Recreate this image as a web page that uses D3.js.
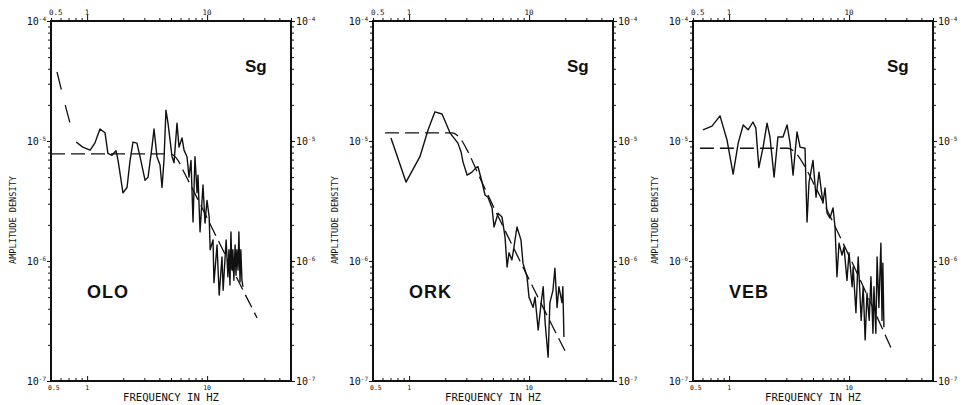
<!DOCTYPE html>
<html lang="en">
<head>
<meta charset="UTF-8">
<title>Sg spectra</title>
<style>
body { margin: 0; background: #fff; }
svg { display: block; }
.axis text, .lbl { font-family: 'DejaVu Sans Mono', monospace; fill: #111; }
.axis line { stroke: #111; stroke-width: 1; }
.title { font-family: 'Liberation Sans', Arial, sans-serif; font-weight: bold; fill: #111; }
</style>
</head>
<body>
<div id="chart"></div>
<script src="https://cdnjs.cloudflare.com/ajax/libs/d3/7.8.5/d3.min.js"></script>
<script>
var stations = ["OLO", "ORK", "VEB"];
var phase = "Sg";
var freqLabels = [0.5, 1, 10];
var ampLabels = [1e-4, 1e-5, 1e-6, 1e-7];
var ampExp = ["-4", "-5", "-6", "-7"];
var xTitle = "FREQUENCY IN HZ";
var yTitle = "AMPLITUDE DENSITY";

// observed spectra (Hz, amplitude density)
var oloFreq = [0.81,0.92,1.06,1.16,1.28,1.41,1.49,1.61,1.74,1.81,1.99,2.15,2.28,2.41,2.60,2.76,3.04,3.22,3.47,3.61,3.82,4.05,4.21,4.37,4.54,4.72,5.10,5.30,5.61,5.83,6.18,6.42,6.80,7.06,7.34,7.63,7.92,8.24,8.39,8.73,9.24,9.60,9.98,10.4,10.6,11.2,11.4,12.1,12.6,13.3,13.6,14.4,14.9,15.2,15.5,15.8,16.1,16.4,16.7,17.1,17.4,17.7,18.1,18.4,18.8,19.1,19.5,19.9];
var oloAmp = [9.8e-6,8.9e-6,8.4e-6,9.6e-6,1.26e-5,1.17e-5,7.9e-6,7.6e-6,8.3e-6,6.9e-6,3.7e-6,4.1e-6,6.9e-6,9.8e-6,9.6e-6,7.4e-6,4.7e-6,5.0e-6,8.9e-6,1.26e-5,7.4e-6,6.3e-6,4.1e-6,6.9e-6,1.81e-5,1.41e-5,7.4e-6,6.6e-6,1.41e-5,8.9e-6,1.06e-5,8.4e-6,7.4e-6,5.0e-6,6.9e-6,2.11e-6,7.4e-6,3.7e-6,5.2e-6,1.75e-6,4.3e-6,2.07e-6,3.2e-6,2.33e-6,1.24e-6,1.5e-6,6.6e-7,1.36e-6,5.2e-7,1.08e-6,5.7e-7,1.5e-6,7.4e-7,1.24e-6,6.3e-7,1.75e-6,8.4e-7,1.24e-6,6.9e-7,1.36e-6,7.6e-7,1.24e-6,8.4e-7,1.75e-6,6.7e-7,1.24e-6,6.9e-7,6.1e-7];
var orkFreq = [0.706,0.942,1.23,1.44,1.64,1.88,2.19,2.55,2.71,2.81,3.04,3.34,3.61,3.75,4.05,4.29,4.54,4.91,5.10,5.51,5.94,6.30,6.55,6.80,7.19,7.48,7.92,8.55,8.89,9.6,9.98,10.8,11.2,11.9,12.6,13.1,13.6,14.4,14.9,15.8,16.4,17.1,17.7,18.8,19.1,19.5];
var orkAmp = [1.06e-5,4.55e-6,7.4e-6,1.24e-5,1.75e-5,1.68e-5,1.17e-5,9.6e-6,8.1e-6,6.7e-6,5.2e-6,5.5e-6,6.0e-6,6.1e-6,4.55e-6,3.55e-6,3.4e-6,2.77e-6,1.92e-6,2.5e-6,2.33e-6,1.58e-6,8.9e-7,1.17e-6,1.02e-6,1.31e-6,1.92e-6,1.5e-6,9.6e-7,7.4e-7,5.0e-7,4.1e-7,5.0e-7,2.66e-7,4.5e-7,6.1e-7,3.04e-7,1.58e-7,4.5e-7,5.7e-7,8.7e-7,4.1e-7,6.1e-7,4.5e-7,6.1e-7,2.33e-7];
var vebFreq = [0.605,0.72,0.84,0.96,1.08,1.19,1.31,1.44,1.58,1.67,1.77,1.92,2.07,2.19,2.37,2.55,2.81,3.04,3.22,3.41,3.68,3.90,4.29,4.46,4.63,5.0,5.30,5.61,6.05,6.30,6.55,6.93,7.34,7.63,7.92,8.24,8.73,9.06,9.6,9.98,10.6,10.8,11.4,11.9,12.6,13.1,13.6,14.1,14.7,15.2,15.8,16.1,16.7,17.1,17.7,18.4,18.8,19.1,19.5];
var vebAmp = [1.24e-5,1.33e-5,1.62e-5,1.02e-5,5.3e-6,9.6e-6,1.36e-5,1.24e-5,1.44e-5,1.28e-5,6.0e-6,8.9e-6,1.41e-5,1.08e-5,5.0e-6,1.08e-5,1.08e-5,1.36e-5,9.6e-6,5.2e-6,1.19e-5,8.9e-6,8.7e-6,2.11e-6,4.5e-6,6.9e-6,3.4e-6,5.5e-6,3.04e-6,4.06e-6,2.5e-6,2.28e-6,2.77e-6,1.92e-6,7.4e-7,1.41e-6,1.12e-6,1.31e-6,6.9e-7,1.17e-6,6.1e-7,8.9e-7,3.7e-7,1.08e-6,3.2e-7,6.1e-7,2.2e-7,5.4e-7,3.2e-7,7.4e-7,2.5e-7,6.1e-7,2.5e-7,1.08e-6,4.1e-7,1.41e-6,3.2e-7,9.6e-7,2.8e-7];

// model spectra (dashed)
var oloModelFreq = [0.5,4.91,5.72,6.30,7.19,8.73,12.3,18.8,26.1];
var oloModelAmp = [7.8e-6,7.8e-6,6.9e-6,5.7e-6,4.4e-6,3.0e-6,1.5e-6,6.4e-7,3.35e-7];
var oloNoiseFreq = [0.561,0.641,0.778];
var oloNoiseAmp = [3.76e-5,2.2e-5,1.06e-5];
var orkModelFreq = [0.63,2.28,2.65,3.10,3.90,8.39,20.7];
var orkModelAmp = [1.17e-5,1.17e-5,1.06e-5,8.1e-6,4.9e-6,1.0e-6,1.65e-7];
var vebModelFreq = [0.571,3.09,3.61,4.21,5.20,23.2];
var vebModelAmp = [8.7e-6,8.7e-6,7.9e-6,6.3e-6,4.2e-6,1.74e-7];

var panels = [
  { name: stations[0], obs: d3.zip(oloFreq, oloAmp), model: d3.zip(oloModelFreq, oloModelAmp), noise: d3.zip(oloNoiseFreq, oloNoiseAmp) },
  { name: stations[1], obs: d3.zip(orkFreq, orkAmp), model: d3.zip(orkModelFreq, orkModelAmp), noise: null },
  { name: stations[2], obs: d3.zip(vebFreq, vebAmp), model: d3.zip(vebModelFreq, vebModelAmp), noise: null }
];

var width = 961, height = 405;
var lefts = [51, 373, 693];
var plotTop = 21, w = 240, h = 360;

var svg = d3.select('#chart').append('svg')
  .attr('width', width)
  .attr('height', height);
svg.append('rect').attr('width', width).attr('height', height).attr('fill', '#fff');

var x = d3.scaleLog().domain([0.5, 50]).range([0, w]);
var y = d3.scaleLog().domain([1e-7, 1e-4]).range([h, 0]);

function isDecade(d) {
  var l = Math.log10(d);
  return Math.abs(l - Math.round(l)) < 1e-6;
}

var line = d3.line().x(function (d) { return x(d[0]); }).y(function (d) { return y(d[1]); });
var smooth = d3.line().curve(d3.curveMonotoneX).x(function (d) { return x(d[0]); }).y(function (d) { return y(d[1]); });

panels.forEach(function (p, i) {
  var g = svg.append('g').attr('transform', 'translate(' + lefts[i] + ',' + plotTop + ')');

  // axes (ticks only, frame drawn separately)
  var gt = g.append('g').attr('class', 'axis')
    .call(d3.axisTop(x).tickValues(x.ticks()).tickSize(3).tickFormat(''));
  gt.selectAll('.tick line').filter(isDecade).attr('y2', -6);
  var gb = g.append('g').attr('class', 'axis').attr('transform', 'translate(0,' + h + ')')
    .call(d3.axisBottom(x).tickValues(x.ticks()).tickSize(-3).tickFormat(''));
  gb.selectAll('.tick line').filter(isDecade).attr('y2', -5);
  var gl = g.append('g').attr('class', 'axis')
    .call(d3.axisLeft(y).tickValues(y.ticks()).tickSize(3).tickFormat(''));
  gl.selectAll('.tick line').filter(isDecade).attr('x2', -4);
  var gr = g.append('g').attr('class', 'axis').attr('transform', 'translate(' + w + ',0)')
    .call(d3.axisRight(y).tickValues(y.ticks()).tickSize(3).tickFormat(''));
  gr.selectAll('.tick line').filter(isDecade).attr('x2', 4);
  g.selectAll('.domain').remove();

  g.append('rect').attr('width', w).attr('height', h)
    .attr('fill', 'none').attr('stroke', '#111').attr('stroke-width', 2);

  // frequency labels top and bottom
  freqLabels.forEach(function (f) {
    var first = f === freqLabels[0];
    g.append('text').attr('class', 'lbl')
      .attr('x', x(f) + (first ? -2 : 0)).attr('y', -6)
      .attr('text-anchor', first ? 'start' : 'middle')
      .attr('font-size', 7.5).text(f);
    g.append('text').attr('class', 'lbl')
      .attr('x', x(f) + (first ? -3 : 0)).attr('y', h + 9)
      .attr('text-anchor', first ? 'start' : 'middle')
      .attr('font-size', 6.5).text(f);
  });

  // amplitude labels both sides
  ampLabels.forEach(function (a, k) {
    [['end', -5], ['start', w + 5]].forEach(function (s) {
      var t = g.append('text').attr('class', 'lbl')
        .attr('x', s[1]).attr('y', y(a) + 3.5)
        .attr('text-anchor', s[0]).attr('font-size', 10);
      t.append('tspan').text('10');
      t.append('tspan').attr('dy', -4).attr('font-size', 6).text(ampExp[k]);
    });
  });

  g.append('text').attr('class', 'lbl')
    .attr('transform', 'translate(-35,199) rotate(-90)')
    .attr('text-anchor', 'middle').attr('font-size', 8.5)
    .attr('textLength', 88).attr('lengthAdjust', 'spacingAndGlyphs')
    .text(yTitle);
  g.append('text').attr('class', 'lbl')
    .attr('x', w / 2).attr('y', h + 20)
    .attr('text-anchor', 'middle').attr('font-size', 10)
    .attr('textLength', 96).attr('lengthAdjust', 'spacingAndGlyphs')
    .text(xTitle);

  g.append('text').attr('class', 'title')
    .attr('x', 194).attr('y', 51).attr('font-size', 17).text(phase);
  g.append('text').attr('class', 'title')
    .attr('x', 36).attr('y', 277).attr('font-size', 18)
    .attr('letter-spacing', 1).text(p.name);

  // model (dashed) and observed spectra
  g.append('path').datum(p.model).attr('d', smooth)
    .attr('fill', 'none').attr('stroke', '#111').attr('stroke-width', 1.3)
    .attr('stroke-dasharray', '14,6');
  if (p.noise) {
    g.append('path').datum(p.noise).attr('d', smooth)
      .attr('fill', 'none').attr('stroke', '#111').attr('stroke-width', 1.3)
      .attr('stroke-dasharray', '18,16');
  }
  g.append('path').datum(p.obs).attr('d', line)
    .attr('fill', 'none').attr('stroke', '#111').attr('stroke-width', 1.4)
    .attr('stroke-linejoin', 'round');
});
</script>
</body>
</html>
